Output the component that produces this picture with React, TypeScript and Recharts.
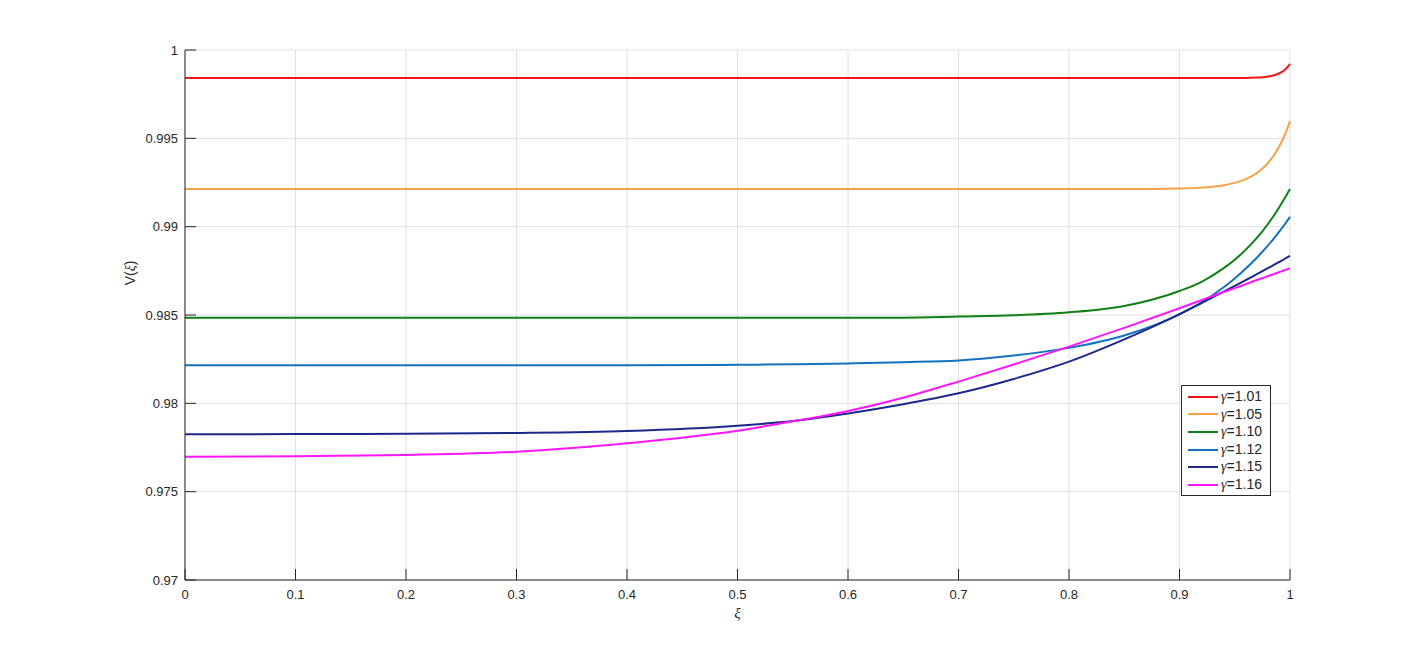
import React from "react";
import {
  LineChart,
  Line,
  XAxis,
  YAxis,
  CartesianGrid,
  Legend,
} from "recharts";

// xi sample points
const xi = [0, 0.1, 0.2, 0.3, 0.4, 0.5, 0.55, 0.6, 0.65, 0.7, 0.75, 0.8, 0.85, 0.9, 0.92, 0.94, 0.95, 0.96, 0.97, 0.975, 0.98, 0.985, 0.99, 0.995, 0.9975, 1];

// V(xi) per gamma
const g101 = [0.99842, 0.99842, 0.99842, 0.99842, 0.99842, 0.99842, 0.99842, 0.99842, 0.99842, 0.99842, 0.99842, 0.99842, 0.99842, 0.99842, 0.99842, 0.99842, 0.99842, 0.99842, 0.99844, 0.99846, 0.9985, 0.99856, 0.99867, 0.99886, 0.99901, 0.99921];
const g105 = [0.99213, 0.99213, 0.99213, 0.99213, 0.99213, 0.99213, 0.99213, 0.99213, 0.99213, 0.99213, 0.99213, 0.99213, 0.99213, 0.99216, 0.99221, 0.99235, 0.99248, 0.99269, 0.99304, 0.99329, 0.9936, 0.994, 0.99451, 0.99516, 0.99554, 0.99598];
const g110 = [0.98485, 0.98485, 0.98485, 0.98485, 0.98485, 0.98485, 0.98485, 0.98485, 0.98485, 0.98491, 0.98498, 0.98515, 0.98551, 0.98636, 0.98688, 0.98765, 0.98813, 0.9887, 0.98937, 0.98974, 0.99015, 0.99059, 0.99107, 0.99159, 0.99186, 0.99213];
const g112 = [0.98215, 0.98215, 0.98215, 0.98215, 0.98215, 0.98218, 0.98221, 0.98226, 0.98233, 0.98243, 0.98271, 0.98314, 0.98384, 0.98503, 0.98572, 0.98657, 0.98707, 0.98763, 0.98824, 0.98858, 0.98893, 0.9893, 0.9897, 0.99011, 0.99033, 0.99055];
const g115 = [0.97825, 0.97826, 0.97828, 0.97832, 0.97843, 0.97873, 0.979, 0.97943, 0.97995, 0.98057, 0.98138, 0.98236, 0.98362, 0.98505, 0.98568, 0.98632, 0.98665, 0.98698, 0.98731, 0.98748, 0.98765, 0.98782, 0.98799, 0.98817, 0.98826, 0.98835];
const g116 = [0.97698, 0.977, 0.97708, 0.97726, 0.97774, 0.97845, 0.97898, 0.97957, 0.98032, 0.98123, 0.9822, 0.98321, 0.98427, 0.98538, 0.98584, 0.9863, 0.98652, 0.98675, 0.98698, 0.98709, 0.9872, 0.98731, 0.98742, 0.98753, 0.98759, 0.98764];

const xTicks = [0, 0.1, 0.2, 0.3, 0.4, 0.5, 0.6, 0.7, 0.8, 0.9, 1];
const yTicks = [0.97, 0.975, 0.98, 0.985, 0.99, 0.995, 1];

const series = [
  { key: "g101", label: "1.01", color: "#f01414", values: g101 },
  { key: "g105", label: "1.05", color: "#f8a046", values: g105 },
  { key: "g110", label: "1.10", color: "#0f8014", values: g110 },
  { key: "g112", label: "1.12", color: "#1272bd", values: g112 },
  { key: "g115", label: "1.15", color: "#1b2a8a", values: g115 },
  { key: "g116", label: "1.16", color: "#ff14ff", values: g116 },
];

const data = xi.map((x, i) => {
  const row: Record<string, number> = { xi: x };
  series.forEach((s) => {
    row[s.key] = s.values[i];
  });
  return row;
});

const FONT = "'Liberation Sans', Arial, sans-serif";
const INK = "#262626";

function XTick(props: any) {
  const { x, y, payload } = props;
  return (
    <g>
      <line x1={x} x2={x} y1={y - 8} y2={y - 19} stroke={INK} strokeWidth={1} />
      <text x={x} y={y} dy="0.85em" textAnchor="middle" fill={INK} fontSize={13} fontFamily={FONT}>
        {String(payload.value)}
      </text>
    </g>
  );
}

function YTick(props: any) {
  const { x, y, payload } = props;
  return (
    <g>
      <line x1={x + 7} x2={x + 18} y1={y} y2={y} stroke={INK} strokeWidth={1} />
      <text x={x} y={y} dy="0.36em" textAnchor="end" fill={INK} fontSize={13} fontFamily={FONT}>
        {String(payload.value)}
      </text>
    </g>
  );
}

function YLabel(props: any) {
  const { viewBox } = props;
  const cx = viewBox.x + 5;
  const cy = viewBox.y + viewBox.height / 2 - 42;
  return (
    <text
      x={cx}
      y={cy}
      transform={`rotate(-90 ${cx} ${cy})`}
      textAnchor="middle"
      dy="0.36em"
      fill={INK}
      fontSize={14}
      fontFamily={FONT}
    >
      V(<tspan fontStyle="italic" fontFamily="'Liberation Serif', serif">ξ</tspan>)
    </text>
  );
}

function XLabel(props: any) {
  const { viewBox } = props;
  const cx = viewBox.x + viewBox.width / 2;
  return (
    <text
      x={cx}
      y={viewBox.y + 38}
      textAnchor="middle"
      fill={INK}
      fontSize={15}
      fontStyle="italic"
      fontFamily="'Liberation Serif', serif"
    >
      ξ
    </text>
  );
}

function LegendBox() {
  return (
    <div
      style={{
        border: `1px solid ${INK}`,
        background: "#fff",
        padding: "2px 8px 1px 6px",
        fontFamily: FONT,
        fontSize: 14,
        color: INK,
        lineHeight: "17.6px",
      }}
    >
      {series.map((s) => (
        <div key={s.key} style={{ display: "flex", alignItems: "center", whiteSpace: "nowrap" }}>
          <svg width={33} height={10} style={{ display: "block" }}>
            <line x1={0} x2={30} y1={5} y2={5} stroke={s.color} strokeWidth={2} />
          </svg>
          <span>
            <span style={{ fontFamily: "'Liberation Serif', serif", fontStyle: "italic" }}>γ</span>={s.label}
          </span>
        </div>
      ))}
    </div>
  );
}

export default function App() {
  return (
    <div style={{ position: "absolute", left: 0, top: 0, width: 1426, height: 653, background: "#fff" }}>
      <LineChart
        width={1426}
        height={653}
        data={data}
        margin={{ top: 50, right: 136, bottom: 43, left: 125 }}
      >
        <CartesianGrid stroke="#e0e0e0" strokeWidth={1} />
        <XAxis
          dataKey="xi"
          type="number"
          domain={[0, 1]}
          ticks={xTicks}
          height={30}
          tickLine={false}
          tickSize={0}
          tickMargin={8}
          axisLine={{ stroke: INK, strokeWidth: 1 }}
          tick={<XTick />}
          label={<XLabel />}
        />
        <YAxis
          type="number"
          domain={[0.97, 1]}
          ticks={yTicks}
          width={60}
          tickLine={false}
          tickSize={0}
          tickMargin={7}
          allowDataOverflow
          axisLine={{ stroke: INK, strokeWidth: 1 }}
          tick={<YTick />}
          label={<YLabel />}
        />
        <Legend
          layout="vertical"
          align="center"
          verticalAlign="middle"
          content={<LegendBox />}
          wrapperStyle={{ position: "absolute", left: 1181, top: 385, width: "auto" }}
        />
        {series.map((s) => (
          <Line
            key={s.key}
            type="monotone"
            dataKey={s.key}
            stroke={s.color}
            strokeWidth={2}
            dot={false}
            activeDot={false}
            isAnimationActive={false}
          />
        ))}
      </LineChart>
    </div>
  );
}
